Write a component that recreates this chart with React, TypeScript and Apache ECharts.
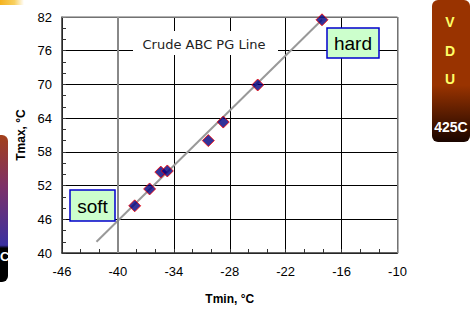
import React, { useEffect, useRef } from "react";
import * as echarts from "echarts";

const tminValues = [-38.2, -36.6, -35.4, -34.7, -30.3, -28.7, -25.0, -18.1];
const tmaxValues = [48.4, 51.4, 54.4, 54.6, 60.0, 63.3, 69.9, 81.5];
const lineX = [-42.3, -18.1];
const lineY = [42.0, 81.5];
const xTicks = { min: -46, max: -10, step: 6 };
const yTicks = { min: 40, max: 82, step: 6 };

const FONT = "'Liberation Sans', Arial, sans-serif";

export default function App() {
  const ref = useRef<HTMLDivElement>(null);
  useEffect(() => {
    if (!ref.current) return;
    const chart = echarts.init(ref.current, null, { renderer: "svg" });
    const points = tminValues.map((x, i) => [x, tmaxValues[i]]);
    const linePts = lineX.map((x, i) => [x, lineY[i]]);
    chart.setOption({
      animation: false,
      backgroundColor: "#ffffff",
      grid: { left: 62, right: 75.5, top: 17, bottom: 52 },
      xAxis: {
        type: "value",
        min: xTicks.min,
        max: xTicks.max,
        interval: xTicks.step,
        name: "Tmin, °C",
        nameLocation: "middle",
        nameGap: 40,
        nameTextStyle: { fontFamily: FONT, fontWeight: "bold", fontSize: 12, color: "#000" },
        axisLine: { show: true, lineStyle: { color: "#333", width: 1.5 } },
        axisTick: { show: true, inside: true, length: 4, lineStyle: { color: "#333" } },
        minorTick: { show: true, splitNumber: 3, length: 4, lineStyle: { color: "#333" } },
        axisLabel: { fontFamily: FONT, fontSize: 13, color: "#000", margin: 12 },
        splitLine: { show: true, lineStyle: { color: "#000", width: 1 } },
      },
      yAxis: {
        type: "value",
        min: yTicks.min,
        max: yTicks.max,
        interval: yTicks.step,
        name: "Tmax, °C",
        nameLocation: "middle",
        nameRotate: 90,
        nameGap: 34,
        nameTextStyle: { fontFamily: FONT, fontWeight: "bold", fontSize: 12, color: "#000" },
        axisLine: { show: true, lineStyle: { color: "#333", width: 1.5 } },
        axisTick: { show: true, inside: true, length: 4, lineStyle: { color: "#333" } },
        minorTick: { show: true, splitNumber: 3, length: 4, lineStyle: { color: "#333" } },
        axisLabel: { fontFamily: FONT, fontSize: 13, color: "#000", margin: 10 },
        splitLine: { show: true, lineStyle: { color: "#000", width: 1 } },
      },
      series: [
        {
          type: "line",
          data: linePts,
          symbol: "none",
          z: 3,
          lineStyle: { color: "#999", width: 2 },
          markLine: {
            silent: true,
            symbol: "none",
            label: { show: false },
            lineStyle: { color: "#888", width: 2, type: "solid" },
            data: [{ xAxis: -40 }],
          },
        },
        {
          type: "line",
          data: [],
          markLine: {
            silent: true,
            symbol: "none",
            label: { show: false },
            lineStyle: { color: "#999", width: 1.5, type: "solid" },
            data: [{ yAxis: yTicks.max }, { xAxis: xTicks.max }],
          },
        },
        {
          type: "scatter",
          data: points,
          symbol: "diamond",
          symbolSize: 12,
          z: 5,
          itemStyle: { color: "#000080", borderColor: "#ff0000", borderWidth: 1 },
        },
      ],
      graphic: [
        {
          type: "rect",
          shape: { x: 0, y: 0, width: 24, height: 5 },
          style: {
            fill: new echarts.graphic.LinearGradient(0, 0, 1, 0, [
              { offset: 0, color: "#f5b21e" },
              { offset: 0.6, color: "#f8d060" },
              { offset: 1, color: "#ffffff" },
            ]),
          },
        },
        {
          type: "rect",
          shape: { x: -30, y: 135, width: 38, height: 147, r: 6 },
          style: {
            fill: new echarts.graphic.LinearGradient(0, 0, 0, 1, [
              { offset: 0, color: "#a3401a" },
              { offset: 0.35, color: "#7d3068" },
              { offset: 0.75, color: "#3a30a0" },
              { offset: 0.77, color: "#000000" },
              { offset: 1, color: "#000000" },
            ]),
          },
        },
        {
          type: "text",
          x: 0,
          y: 256,
          style: { text: "C", fill: "#fff", font: `bold 13px ${FONT}`, align: "left", verticalAlign: "middle" },
        },
        {
          type: "rect",
          shape: { x: 432, y: 0, width: 38, height: 142, r: 6 },
          style: {
            fill: new echarts.graphic.LinearGradient(0, 0, 0, 1, [
              { offset: 0, color: "#993300" },
              { offset: 0.6, color: "#993300" },
              { offset: 1, color: "#1a0500" },
            ]),
          },
        },
        ...["V", "D", "U"].map((t, i) => ({
          type: "text",
          x: 450,
          y: 22 + i * 28.5,
          style: { text: t, fill: "#ffff66", font: `bold 14px ${FONT}`, align: "center", verticalAlign: "middle" },
        })),
        {
          type: "text",
          x: 451,
          y: 127,
          style: { text: "425C", fill: "#fff", font: `bold 14px ${FONT}`, align: "center", verticalAlign: "middle" },
        },
        {
          type: "rect",
          z: 10,
          shape: { x: 133, y: 31, width: 145, height: 24 },
          style: { fill: "#ffffff" },
        },
        {
          type: "text",
          z: 11,
          x: 204,
          y: 44,
          style: { text: "Crude ABC PG Line", fill: "#222", font: `13px 'DejaVu Sans', sans-serif`, align: "center", verticalAlign: "middle" },
        },
        {
          type: "rect",
          z: 10,
          shape: { x: 70, y: 190, width: 45, height: 31 },
          style: { fill: "#ccffcc", stroke: "#0000cc", lineWidth: 1.5 },
        },
        {
          type: "text",
          z: 11,
          x: 92.5,
          y: 206,
          style: { text: "soft", fill: "#000", font: `19px ${FONT}`, align: "center", verticalAlign: "middle" },
        },
        {
          type: "rect",
          z: 10,
          shape: { x: 327, y: 28, width: 52, height: 30 },
          style: { fill: "#ccffcc", stroke: "#0000cc", lineWidth: 1.5 },
        },
        {
          type: "text",
          z: 11,
          x: 353,
          y: 43.5,
          style: { text: "hard", fill: "#000", font: `19px ${FONT}`, align: "center", verticalAlign: "middle" },
        },
      ],
    });
    return () => chart.dispose();
  }, []);
  return (
    <div
      ref={ref}
      style={{ position: "fixed", left: 0, top: 0, width: 473, height: 310 }}
    />
  );
}
